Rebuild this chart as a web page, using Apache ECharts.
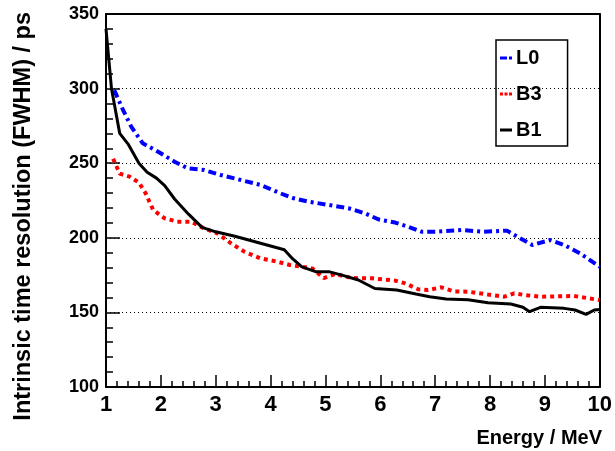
<!DOCTYPE html>
<html>
<head>
<meta charset="utf-8">
<script src="https://cdn.jsdelivr.net/npm/echarts@6/dist/echarts.min.js"></script>
<style>
  html, body { margin: 0; padding: 0; background: #fff; }
  #chart { width: 615px; height: 451px; }
</style>
</head>
<body>
<div id="chart"></div>
<script>
// energies (MeV) and resolutions (ps)
const l0Energy = [1.15, 1.31, 1.46, 1.67, 1.95, 2.25, 2.49, 2.79, 3.09, 3.46, 3.82, 4.18, 4.42, 4.7, 5.06, 5.42, 5.72, 5.96, 6.27, 6.51, 6.75, 7.0, 7.48, 7.89, 8.31, 8.5, 8.77, 9.1, 9.35, 9.64, 10.0];
const l0Res = [299, 285.7, 274.5, 263.3, 257.7, 251, 246.6, 245.4, 242.1, 238.7, 235.4, 229.8, 226.5, 224.2, 222, 219.8, 216.4, 212.4, 210.2, 207.4, 204.1, 204.1, 205.2, 204.1, 204.8, 200.7, 195.2, 198.5, 195.2, 189.6, 180.6];

const b3Energy = [1.13, 1.25, 1.43, 1.6, 1.72, 1.86, 2.07, 2.3, 2.55, 2.79, 3.03, 3.28, 3.52, 3.82, 4.12, 4.35, 4.57, 4.76, 4.97, 5.18, 5.48, 5.84, 6.27, 6.45, 6.69, 6.87, 7.11, 7.35, 7.6, 7.96, 8.26, 8.44, 8.62, 8.92, 9.53, 10.0];
const b3Res = [253, 243, 241, 237, 230, 218.6, 213, 210.8, 210.8, 206.3, 203, 196.3, 190.7, 186.2, 184, 181.8, 180.6, 179.5, 173, 175.8, 173, 172.9, 171.3, 169.5, 165.5, 165, 166.8, 164, 163.9, 162, 160.5, 162.8, 161.7, 160.5, 161, 158.3];

const b1Energy = [1.0, 1.05, 1.1, 1.25, 1.4, 1.6, 1.75, 1.92, 2.07, 2.25, 2.5, 2.75, 3.0, 3.35, 3.7, 4.05, 4.25, 4.4, 4.57, 4.82, 5.06, 5.3, 5.6, 5.9, 6.3, 6.65, 6.9, 7.2, 7.6, 7.96, 8.38, 8.6, 8.72, 8.92, 9.35, 9.55, 9.75, 9.9, 10.0];
const b1Res = [340, 320, 300, 270, 263, 250, 244, 240, 235, 226, 216, 207, 204, 201, 197.5, 194, 192, 186, 180.5, 177.3, 177.3, 175, 171.7, 166, 165, 162.3, 160.5, 159, 158.5, 156.5, 155.6, 153.5, 150.5, 153.4, 152.7, 151.6, 148.7, 151.6, 152];

function pairs(xs, ys) {
  return xs.map((x, i) => [x, ys[i]]);
}

const font = "Liberation Sans";
const myChart = echarts.init(document.getElementById("chart"));

const option = {
  animation: false,
  grid: { left: 106, right: 12, top: 14, bottom: 64 },
  legend: {
    orient: "vertical",
    left: 496,
    top: 40,
    padding: [8, 26, 6, 4],
    itemGap: 16,
    itemWidth: 12,
    itemHeight: 3,
    borderColor: "#000",
    borderWidth: 1.5,
    textStyle: { fontFamily: font, fontWeight: "bold", fontSize: 20, lineHeight: 20, color: "#000", padding: [0, 0, 0, -1] },
    data: [
      { name: "L0", icon: "path://M0,0h7v3h-7z M9,0h3v3h-3z" },
      { name: "B3", icon: "path://M0,0h3v3h-3z M4.5,0h3v3h-3z M9,0h3v3h-3z" },
      { name: "B1", icon: "rect" },
    ],
  },
  xAxis: [
    {
      type: "value",
      min: 1,
      max: 10,
      interval: 1,
      axisLine: { lineStyle: { color: "#000", width: 2 } },
      axisTick: { inside: true, length: 12, lineStyle: { color: "#000", width: 1.5 } },
      minorTick: { show: true, splitNumber: 5, length: 6, lineStyle: { color: "#000", width: 1.5 } },
      axisLabel: { fontFamily: font, fontWeight: "bold", fontSize: 22, color: "#000", margin: 7 },
      splitLine: { show: false },
    },
    {
      type: "value",
      position: "top",
      min: 1,
      max: 10,
      axisLine: { show: true, lineStyle: { color: "#000", width: 2 } },
      axisTick: { show: false },
      axisLabel: { show: false },
      splitLine: { show: false },
    },
  ],
  yAxis: [
    {
      type: "value",
      min: 100,
      max: 350,
      interval: 50,
      axisLine: { show: true, lineStyle: { color: "#000", width: 2 } },
      axisTick: { show: true, inside: true, length: 14, lineStyle: { color: "#000", width: 1.5 } },
      minorTick: { show: true, splitNumber: 5, length: 7, lineStyle: { color: "#000", width: 1.5 } },
      axisLabel: { fontFamily: font, fontWeight: "bold", fontSize: 18, color: "#000", margin: 7 },
      splitLine: { show: true, lineStyle: { color: "#000", width: 1, type: [1, 3] } },
    },
    {
      type: "value",
      position: "right",
      min: 100,
      max: 350,
      axisLine: { show: true, lineStyle: { color: "#000", width: 2 } },
      axisTick: { show: false },
      axisLabel: { show: false },
      splitLine: { show: false },
    },
  ],
  graphic: [
    {
      type: "text",
      right: 13,
      top: 428,
      style: { text: "Energy / MeV", font: "bold 20px Liberation Sans", fill: "#000" },
    },
    {
      type: "text",
      x: 12,
      y: 12,
      rotation: Math.PI / 2,
      style: {
        text: "Intrinsic time resolution (FWHM) / ps",
        font: "bold 23.5px Liberation Sans",
        fill: "#000",
        align: "right",
        verticalAlign: "top",
      },
    },
  ],
  series: [
    {
      name: "L0",
      type: "line",
      symbol: "none",
      color: "#0000ff",
      lineStyle: { width: 4, type: [8, 4, 3, 4], cap: "butt" },
      data: pairs(l0Energy, l0Res),
    },
    {
      name: "B3",
      type: "line",
      symbol: "none",
      color: "#ff0000",
      lineStyle: { width: 4, type: [4, 4], cap: "butt" },
      data: pairs(b3Energy, b3Res),
    },
    {
      name: "B1",
      type: "line",
      symbol: "none",
      color: "#000000",
      lineStyle: { width: 3 },
      data: pairs(b1Energy, b1Res),
    },
  ],
};

myChart.setOption(option, true);
window.addEventListener("resize", () => {
  myChart.resize();
});
</script>
</body>
</html>
